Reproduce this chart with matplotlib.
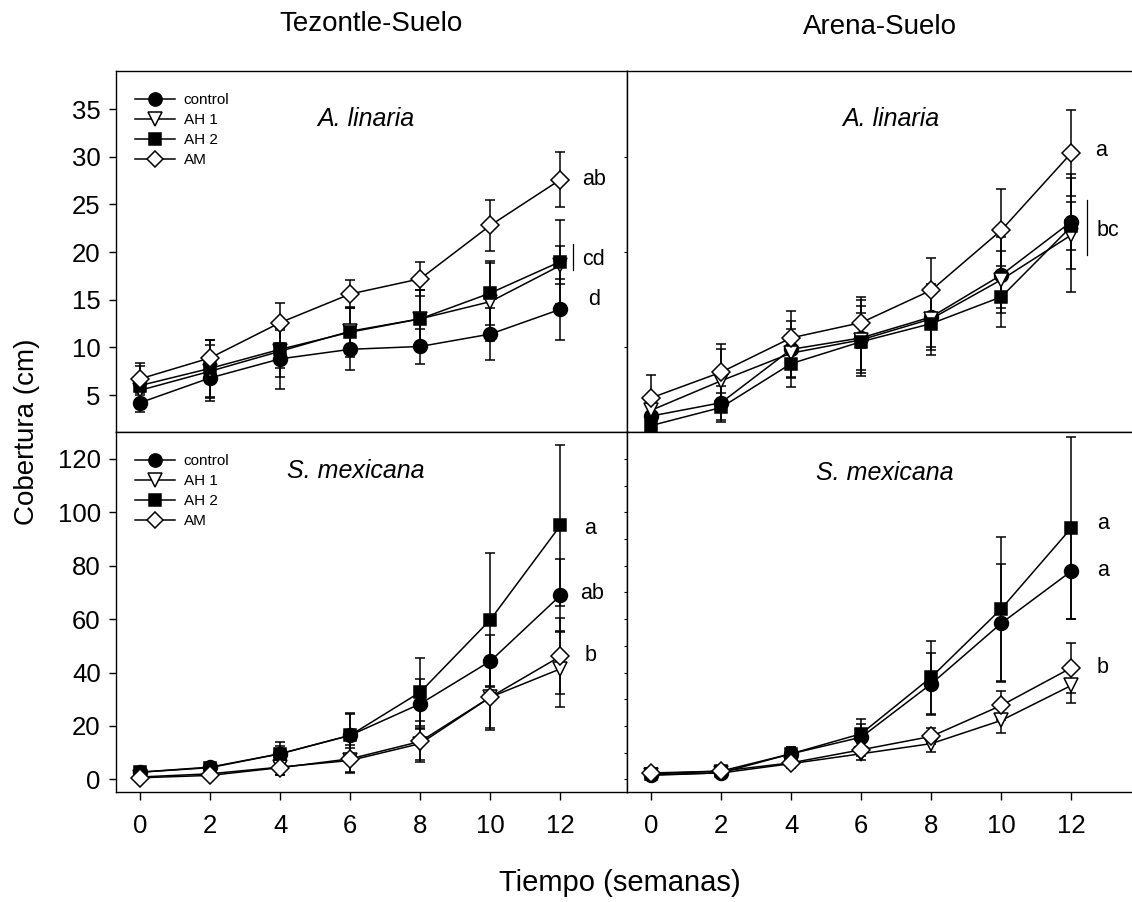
import matplotlib
matplotlib.use("Agg")
import matplotlib.pyplot as plt

plt.rcParams['font.family'] = ['Liberation Sans', 'DejaVu Sans']

weeks = [0, 2, 4, 6, 8, 10, 12]
series_names = ["control", "AH 1", "AH 2", "AM"]

# Tezontle-Suelo, A. linaria
tez_al = {
    "control": [4.2, 6.8, 8.8, 9.8, 10.1, 11.4, 14.0],
    "AH 1": [5.5, 7.5, 9.6, 11.7, 13.0, 14.8, 18.6],
    "AH 2": [6.0, 7.8, 9.8, 11.6, 13.0, 15.7, 19.0],
    "AM": [6.7, 8.9, 12.6, 15.6, 17.2, 22.8, 27.6],
}
tez_al_err = {
    "control": [1.0, 2.4, 3.2, 2.2, 1.8, 2.7, 3.2],
    "AH 1": [1.5, 2.8, 2.7, 2.4, 3.0, 4.1, 2.0],
    "AH 2": [2.0, 3.0, 2.0, 2.6, 3.0, 3.4, 4.4],
    "AM": [1.7, 1.9, 2.1, 1.5, 1.8, 2.7, 2.9],
}
# Arena-Suelo, A. linaria
are_al = {
    "control": [2.8, 4.2, 9.8, 11.0, 13.2, 17.6, 23.2],
    "AH 1": [3.4, 6.5, 9.4, 10.8, 13.0, 17.1, 21.8],
    "AH 2": [1.8, 3.7, 8.3, 10.6, 12.5, 15.3, 22.7],
    "AM": [4.7, 7.4, 11.0, 12.6, 16.0, 22.3, 30.4],
}
are_al_err = {
    "control": [1.0, 1.8, 3.0, 4.0, 3.5, 4.0, 5.0],
    "AH 1": [1.2, 3.3, 2.5, 3.5, 3.0, 3.0, 6.0],
    "AH 2": [0.8, 1.5, 2.5, 3.0, 3.3, 3.2, 2.5],
    "AM": [2.4, 3.0, 2.8, 2.7, 3.4, 4.3, 4.5],
}
# Tezontle-Suelo, S. mexicana
tez_sm = {
    "control": [2.7, 4.6, 9.6, 16.5, 28.3, 44.3, 68.9],
    "AH 1": [0.9, 2.1, 4.6, 7.1, 13.4, 30.8, 41.4],
    "AH 2": [2.7, 4.4, 9.6, 16.5, 32.7, 59.8, 95.1],
    "AM": [0.6, 1.5, 4.4, 7.7, 14.2, 30.8, 46.1],
}
tez_sm_err = {
    "control": [0.8, 1.2, 3.0, 8.0, 9.4, 9.7, 13.7],
    "AH 1": [0.5, 1.0, 3.0, 4.5, 6.0, 11.6, 14.3],
    "AH 2": [0.8, 1.0, 4.4, 8.3, 12.8, 25.0, 30.3],
    "AM": [0.5, 1.0, 2.9, 5.2, 7.5, 12.2, 14.3],
}
# Arena-Suelo, S. mexicana
are_sm = {
    "control": [1.5, 2.5, 9.6, 15.8, 35.8, 58.5, 78.0],
    "AH 1": [1.8, 2.4, 5.9, 9.6, 13.4, 22.1, 35.2],
    "AH 2": [2.1, 3.1, 9.6, 17.1, 38.3, 63.9, 94.2],
    "AM": [2.4, 3.1, 6.2, 11.1, 16.1, 27.7, 41.8],
}
are_sm_err = {
    "control": [0.5, 0.8, 2.5, 5.0, 11.5, 22.0, 18.0],
    "AH 1": [0.5, 0.8, 1.5, 2.5, 3.2, 4.8, 6.6],
    "AH 2": [0.6, 0.8, 2.5, 5.6, 13.7, 27.0, 34.2],
    "AM": [0.6, 0.8, 1.5, 2.5, 3.0, 5.5, 9.4],
}

# significance letters: (x, y, text)
tez_al_letters = [(12.95, 27.6, "ab"), (12.95, 19.2, "cd"), (12.95, 15.0, "d")]
are_al_letters = [(12.85, 30.6, "a"), (13.05, 22.3, "bc")]
tez_sm_letters = [(12.85, 94.0, "a"), (12.9, 69.5, "ab"), (12.85, 46.4, "b")]
are_sm_letters = [(12.9, 95.7, "a"), (12.9, 78.2, "a"), (12.9, 41.8, "b")]
# bracket lines next to grouped letters: (x, y_low, y_high)
tez_al_brackets = [(12.37, 18.1, 20.8)]
are_al_brackets = [(12.43, 19.7, 25.5)]

styles = {
    "control": dict(marker="o", mfc="black", ms=10),
    "AH 1": dict(marker="v", mfc="white", ms=10),
    "AH 2": dict(marker="s", mfc="black", ms=9),
    "AM": dict(marker="D", mfc="white", ms=9),
}

W, H = 1132, 902
fig = plt.figure(figsize=(W / 100, H / 100), dpi=100)


def px_axes(x0, y0, x1, y1):
    return fig.add_axes([x0 / W, 1 - y1 / H, (x1 - x0) / W, (y1 - y0) / H])


ax_tl = px_axes(116, 70.7, 627, 431.7)
ax_tr = px_axes(627, 70.7, 1138, 431.7)
ax_bl = px_axes(116, 431.7, 627, 792)
ax_br = px_axes(627, 431.7, 1138, 792)

panels = [
    (ax_tl, tez_al, tez_al_err, tez_al_letters, tez_al_brackets, "A. linaria", (6.43, 34.0)),
    (ax_tr, are_al, are_al_err, are_al_letters, are_al_brackets, "A. linaria", (6.83, 34.0)),
    (ax_bl, tez_sm, tez_sm_err, tez_sm_letters, [], "S. mexicana", (6.17, 115.5)),
    (ax_br, are_sm, are_sm_err, are_sm_letters, [], "S. mexicana", (6.66, 114.7)),
]

for ax, vals, errs, letters, brackets, species, spos in panels:
    for name in series_names:
        ax.errorbar(weeks, vals[name], yerr=errs[name], fmt="none",
                    ecolor="black", elinewidth=1.1, capsize=3.4, capthick=1.1,
                    zorder=2)
    for name in series_names:
        ax.plot(weeks, vals[name], color="black", lw=1.1, mec="black",
                mew=1.1, label=name, zorder=3, **styles[name])
    for x, y, t in letters:
        ax.text(x, y, t, fontsize=15.5, ha="center", va="center")
    for x, y0, y1 in brackets:
        ax.plot([x, x], [y0, y1], color="black", lw=0.9)
    ax.text(spos[0], spos[1], species, fontsize=18, style="italic",
            ha="center", va="center")
    ax.set_xlim(-0.686, 13.9)
    for s in ax.spines.values():
        s.set_linewidth(1.0)

# right panels are cut at the figure edge
for ax in (ax_tr, ax_br):
    ax.spines["right"].set_visible(False)

ax_tl.set_ylim(1.16, 39.02)
ax_tr.set_ylim(1.16, 39.02)
ax_bl.set_ylim(-4.72, 130.2)
ax_br.set_ylim(-4.72, 130.2)

ax_tl.set_yticks([5, 10, 15, 20, 25, 30, 35])
ax_bl.set_yticks([0, 20, 40, 60, 80, 100, 120])
ax_tr.set_yticks([10, 20, 30])
ax_br.set_yticks(list(range(0, 130, 10)))

for ax in (ax_tl, ax_bl):
    ax.tick_params(axis="y", direction="out", length=5, width=1,
                   labelsize=18.5, pad=6)
for ax in (ax_tr, ax_br):
    ax.tick_params(axis="y", direction="out", length=2, width=0.8,
                   labelleft=False)
for ax in (ax_tl, ax_tr):
    ax.tick_params(axis="x", bottom=False, labelbottom=False)
for ax in (ax_bl, ax_br):
    ax.set_xticks(weeks)
    ax.tick_params(axis="x", direction="out", length=6, width=1,
                   labelsize=18.5, pad=10)

for ax in (ax_tl, ax_bl):
    ax.legend(loc="upper left", bbox_to_anchor=(0.025, 0.955), frameon=False,
              fontsize=11, handlelength=2.6, handletextpad=0.6,
              labelspacing=0.4, borderaxespad=0, markerscale=0.95)

fig.text(371 / W, 1 - 24 / H, "Tezontle-Suelo", fontsize=20,
         ha="center", va="center")
fig.text(880 / W, 1 - 27 / H, "Arena-Suelo", fontsize=20,
         ha="center", va="center")
fig.text(27 / W, 1 - 432 / H, "Cobertura (cm)", fontsize=20,
         rotation=90, ha="center", va="center")
fig.text(620 / W, 1 - 883 / H, "Tiempo (semanas)", fontsize=21,
         ha="center", va="center")

fig.savefig("out.png", dpi=100)
